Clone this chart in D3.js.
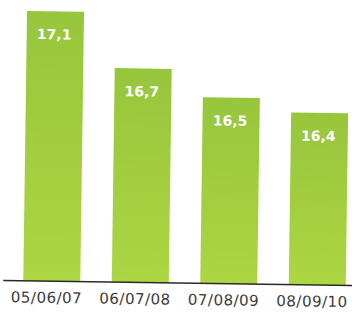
<!DOCTYPE html>
<html>
<head>
<meta charset="utf-8">
<script src="https://cdn.jsdelivr.net/npm/d3@7"></script>
<style>
  body { margin: 0; background: #fff; }
  .tick text { font-family: "DejaVu Sans", sans-serif; font-size: 15px; letter-spacing: 0.5px; fill: #3c3c3c; }
  .value { font-family: "DejaVu Sans", sans-serif; font-weight: bold; font-size: 14px; fill: #fff; }
</style>
</head>
<body>
<div id="chart"></div>
<script>
// chart data
var periods = ["05/06/07", "06/07/08", "07/08/09", "08/09/10"];
var values = [17.1, 16.7, 16.5, 16.4];
var valueLabels = ["17,1", "16,7", "16,5", "16,4"];

var svgWidth = 352;
var svgHeight = 316;
var baseY = 283;

var svg = d3.select("#chart")
  .append("svg")
  .attr("width", svgWidth)
  .attr("height", svgHeight);

// green gradient like the printed bars
var grad = svg.append("defs").append("linearGradient")
  .attr("id", "barGrad")
  .attr("x1", 0).attr("y1", 0).attr("x2", 0).attr("y2", 1);
grad.append("stop").attr("offset", "0%").attr("stop-color", "#97c53c");
grad.append("stop").attr("offset", "100%").attr("stop-color", "#acd642");

// the scan is tilted a little clockwise
var chartGroup = svg.append("g")
  .attr("transform", "rotate(0.8, 176, 158)");

var xScale = d3.scaleBand()
  .domain(periods)
  .range([9.25, 363.25])
  .paddingInner(0.356)
  .paddingOuter(0.178);

var yScale = d3.scaleLinear()
  .domain([15.17, 17.1])
  .range([baseY, 13]);

chartGroup.selectAll("rect.bar")
  .data(values)
  .enter()
  .append("rect")
  .attr("class", "bar")
  .attr("x", (d, i) => xScale(periods[i]))
  .attr("y", d => yScale(d))
  .attr("width", xScale.bandwidth())
  .attr("height", d => baseY - yScale(d))
  .attr("fill", "url(#barGrad)");

chartGroup.selectAll("text.value")
  .data(values)
  .enter()
  .append("text")
  .attr("class", "value")
  .attr("text-anchor", "middle")
  .attr("x", (d, i) => xScale(periods[i]) + xScale.bandwidth() / 2 - 1)
  .attr("y", d => yScale(d) + 28)
  .text((d, i) => valueLabels[i]);

var bottomAxis = d3.axisBottom(xScale)
  .tickSize(0)
  .tickSizeOuter(0)
  .tickPadding(11);

var xAxis = chartGroup.append("g")
  .attr("transform", `translate(0, ${baseY})`)
  .call(bottomAxis);

xAxis.select(".domain")
  .attr("stroke", "#2a2a2a")
  .attr("stroke-width", 1.5)
  .attr("d", "M5,0H363");

xAxis.selectAll(".tick text")
  .attr("dx", -5);
</script>
</body>
</html>
